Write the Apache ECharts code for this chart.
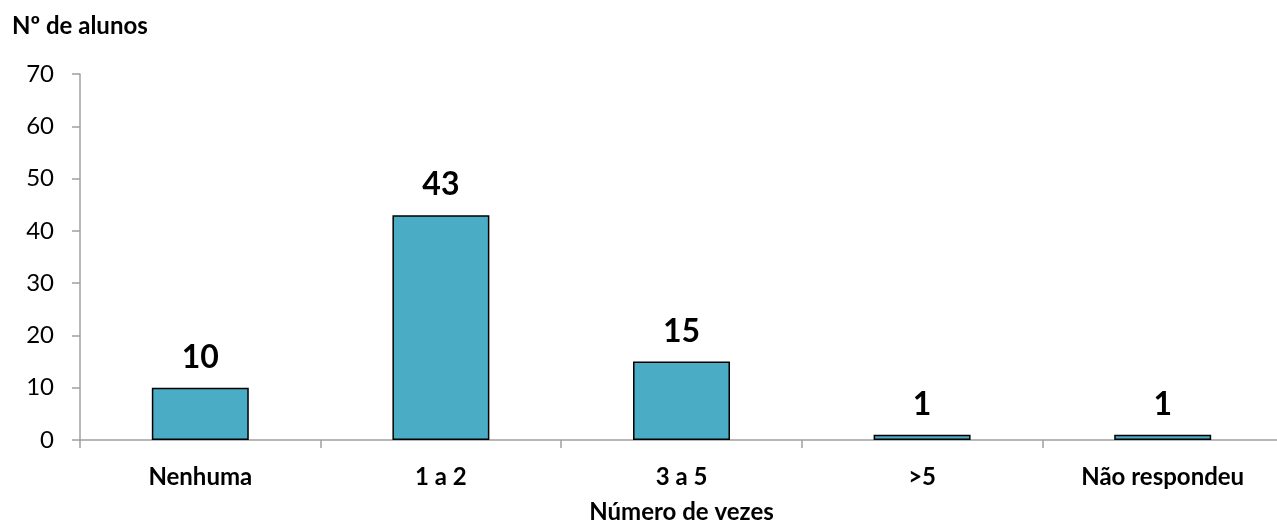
<!DOCTYPE html>
<html>
<head>
<meta charset="utf-8">
<script src="https://cdn.jsdelivr.net/npm/echarts@6/dist/echarts.min.js"></script>
<style>
  html, body { margin: 0; padding: 0; background: #fff; overflow: hidden; }
  #chart { width: 1277px; height: 526px; }
</style>
</head>
<body>
<div id="chart"></div>
<script>
// Number of students by how many times (answers to the survey question)
const categories = ['Nenhuma', '1 a 2', '3 a 5', '>5', 'Não respondeu'];
const students = [10, 43, 15, 1, 1];
const yTicks = { min: 0, max: 70, interval: 10 };

const FONT = 'Lato, "Open Sans", sans-serif';
const axisGray = '#a0a0a0';

const chart = echarts.init(document.getElementById('chart'), null, { renderer: 'canvas' });
chart.setOption({
  animation: false,
  textStyle: { fontFamily: FONT },
  // the plot runs slightly past the right edge of the canvas
  grid: { left: 80, right: -6, top: 74, bottom: 86, containLabel: false, outerBoundsMode: 'none' },
  xAxis: {
    type: 'category',
    data: categories,
    boundaryGap: true,
    name: 'Número de vezes',
    nameLocation: 'middle',
    nameGap: 60,
    nameTextStyle: { fontFamily: FONT, fontWeight: 'bold', fontSize: 24, color: '#000' },
    axisLine: { lineStyle: { color: axisGray, width: 1.5 } },
    axisTick: { show: true, length: 8, lineStyle: { color: axisGray, width: 1.5 } },
    axisLabel: { fontFamily: FONT, fontWeight: 'bold', fontSize: 24, color: '#000', margin: 25 }
  },
  yAxis: {
    type: 'value',
    min: yTicks.min,
    max: yTicks.max,
    interval: yTicks.interval,
    name: 'Nº de alunos',
    nameLocation: 'end',
    nameGap: 36,
    nameTextStyle: { fontFamily: FONT, fontWeight: 'bold', fontSize: 24, color: '#000', align: 'left', padding: [0, 0, 0, -68] },
    splitLine: { show: false },
    axisLine: { show: true, lineStyle: { color: axisGray, width: 1.5 } },
    axisTick: { show: true, length: 8, lineStyle: { color: axisGray, width: 1.5 } },
    axisLabel: { fontFamily: FONT, fontSize: 24, color: '#000', margin: 26 }
  },
  series: [{
    type: 'bar',
    data: students,
    barWidth: '40.3%',
    itemStyle: { color: '#4BACC6', borderColor: '#000', borderWidth: 1.5 },
    label: {
      show: true,
      position: 'top',
      distance: 14,
      fontFamily: FONT,
      fontWeight: 'bold',
      fontSize: 32,
      color: '#000'
    }
  }]
});
</script>
</body>
</html>
